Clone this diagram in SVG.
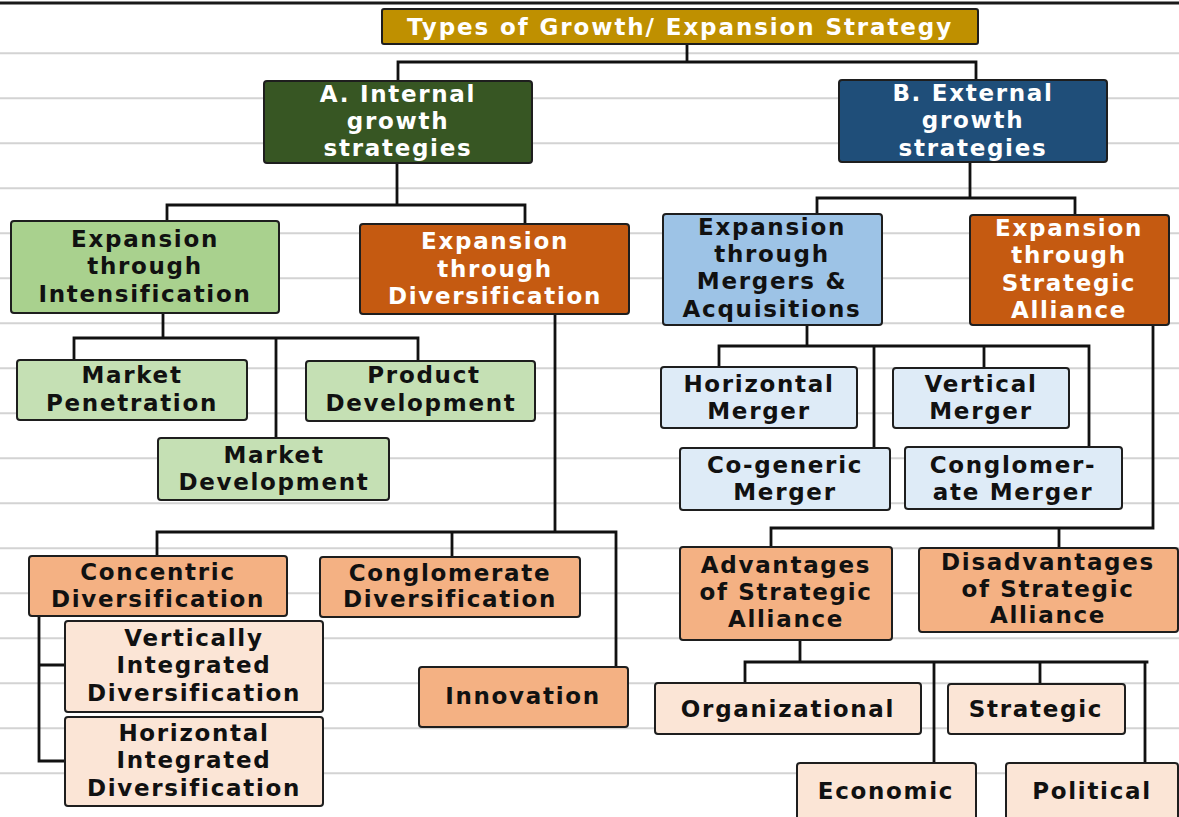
<svg xmlns="http://www.w3.org/2000/svg" width="1179" height="817" viewBox="0 0 1179 817">
<style>
.bg{fill:#ffffff}
.rule{stroke:#d3d3d3;stroke-width:2}
.box{stroke:#1e1e1e;stroke-width:2}
.t{font-family:"DejaVu Sans","Liberation Sans",sans-serif;font-weight:bold;font-size:23px;letter-spacing:1.7px;text-anchor:middle;fill:#111}
.w{fill:#ffffff}
.conn{fill:none;stroke:#111;stroke-width:2.8;stroke-linecap:square}
.gold{fill:#bf9000}.dg{fill:#375623}.db{fill:#1f4e79}.lg{fill:#a9d18e}.or{fill:#c55a11}.lb{fill:#9dc3e6}
.pg{fill:#c5e0b4}.lo{fill:#f4b183}.pp{fill:#fbe5d6}.pb{fill:#deebf7}
</style>
<rect class="bg" x="0" y="0" width="1179" height="817"/>
<g id="ruled-lines">
<line class="rule" x1="0" y1="53.3" x2="1179" y2="53.3"/>
<line class="rule" x1="0" y1="98.3" x2="1179" y2="98.3"/>
<line class="rule" x1="0" y1="143.3" x2="1179" y2="143.3"/>
<line class="rule" x1="0" y1="188.3" x2="1179" y2="188.3"/>
<line class="rule" x1="0" y1="233.3" x2="1179" y2="233.3"/>
<line class="rule" x1="0" y1="278.3" x2="1179" y2="278.3"/>
<line class="rule" x1="0" y1="323.3" x2="1179" y2="323.3"/>
<line class="rule" x1="0" y1="368.3" x2="1179" y2="368.3"/>
<line class="rule" x1="0" y1="413.3" x2="1179" y2="413.3"/>
<line class="rule" x1="0" y1="458.3" x2="1179" y2="458.3"/>
<line class="rule" x1="0" y1="503.3" x2="1179" y2="503.3"/>
<line class="rule" x1="0" y1="548.3" x2="1179" y2="548.3"/>
<line class="rule" x1="0" y1="593.3" x2="1179" y2="593.3"/>
<line class="rule" x1="0" y1="638.3" x2="1179" y2="638.3"/>
<line class="rule" x1="0" y1="683.3" x2="1179" y2="683.3"/>
<line class="rule" x1="0" y1="728.3" x2="1179" y2="728.3"/>
<line class="rule" x1="0" y1="773.3" x2="1179" y2="773.3"/>
<line x1="0" y1="3" x2="1179" y2="3" stroke="#1a1a1a" stroke-width="3"/>
</g>
<g id="connectors">
<path class="conn" d="M687,44 V62 M398,62 H976 M398,62 V80 M976,62 V80"/>
<path class="conn" d="M397,163 V205 M167,205 H525 M167,205 V221 M525,205 V224"/>
<path class="conn" d="M970,162 V198 M817,198 H1075 M817,198 V214 M1075,198 V215"/>
<path class="conn" d="M163,313 V338 M74,338 H418 M74,338 V360 M276,338 V438 M418,338 V362"/>
<path class="conn" d="M555,314 V532 M157,532 H616 M157,532 V556 M452,532 V557 M616,532 V667"/>
<path class="conn" d="M39,616 V761 M39,665 H65 M39,761 H65"/>
<path class="conn" d="M807,325 V346 M719,346 H1089 M719,346 V367 M874,346 V448 M984,346 V368 M1089,346 V447"/>
<path class="conn" d="M1153,325 V528 M771,528 H1153 M771,528 V547 M1059,528 V548"/>
<path class="conn" d="M800,640 V662 M745,662 H1147 M745,662 V683 M934,662 V763 M1040,662 V684 M1145,662 V763"/>
</g>
<g id="n-title"><rect class="box gold" x="382" y="9" width="596" height="35" rx="2"/>
<text class="t w" x="680" y="35" style="letter-spacing:1.9px">Types of Growth/ Expansion Strategy</text></g>
<g id="n-internal"><rect class="box dg" x="264" y="81" width="268" height="82" rx="3"/>
<text class="t w" x="398" y="102">A. Internal</text><text class="t w" x="398" y="129">growth</text><text class="t w" x="398" y="156">strategies</text></g>
<g id="n-external"><rect class="box db" x="839" y="80" width="268" height="82" rx="3"/>
<text class="t w" x="973" y="101">B. External</text><text class="t w" x="973" y="128">growth</text><text class="t w" x="973" y="156">strategies</text></g>
<g id="n-intensification"><rect class="box lg" x="11" y="221" width="268" height="92" rx="3"/>
<text class="t" x="145" y="247">Expansion</text><text class="t" x="145" y="274">through</text><text class="t" x="145" y="302">Intensification</text></g>
<g id="n-diversification"><rect class="box or" x="360" y="224" width="269" height="90" rx="3"/>
<text class="t w" x="495" y="249">Expansion</text><text class="t w" x="495" y="277">through</text><text class="t w" x="495" y="304">Diversification</text></g>
<g id="n-mergers"><rect class="box lb" x="663" y="214" width="219" height="111" rx="3"/>
<text class="t" x="772" y="235">Expansion</text><text class="t" x="772" y="262">through</text><text class="t" x="772" y="289">Mergers &amp;</text><text class="t" x="772" y="317">Acquisitions</text></g>
<g id="n-alliance"><rect class="box or" x="970" y="215" width="199" height="110" rx="3"/>
<text class="t w" x="1069" y="236">Expansion</text><text class="t w" x="1069" y="263">through</text><text class="t w" x="1069" y="291">Strategic</text><text class="t w" x="1069" y="318">Alliance</text></g>
<g id="n-market-penetration"><rect class="box pg" x="17" y="360" width="230" height="60" rx="3"/>
<text class="t" x="132" y="383">Market</text><text class="t" x="132" y="411">Penetration</text></g>
<g id="n-product-development"><rect class="box pg" x="306" y="361" width="229" height="60" rx="3"/>
<text class="t" x="424" y="383">Product</text><text class="t" x="421" y="411">Development</text></g>
<g id="n-market-development"><rect class="box pg" x="158" y="438" width="231" height="62" rx="3"/>
<text class="t" x="274" y="463">Market</text><text class="t" x="274" y="490">Development</text></g>
<g id="n-concentric"><rect class="box lo" x="29" y="556" width="258" height="60" rx="3"/>
<text class="t" x="158" y="580">Concentric</text><text class="t" x="158" y="607">Diversification</text></g>
<g id="n-conglomerate-div"><rect class="box lo" x="320" y="557" width="260" height="60" rx="3"/>
<text class="t" x="450" y="581">Conglomerate</text><text class="t" x="450" y="607">Diversification</text></g>
<g id="n-innovation"><rect class="box lo" x="419" y="667" width="209" height="60" rx="3"/>
<text class="t" x="523" y="704">Innovation</text></g>
<g id="n-vertically"><rect class="box pp" x="65" y="621" width="258" height="91" rx="3"/>
<text class="t" x="194" y="646">Vertically</text><text class="t" x="194" y="673">Integrated</text><text class="t" x="194" y="701">Diversification</text></g>
<g id="n-horizontally"><rect class="box pp" x="65" y="717" width="258" height="89" rx="3"/>
<text class="t" x="194" y="741">Horizontal</text><text class="t" x="194" y="768">Integrated</text><text class="t" x="194" y="796">Diversification</text></g>
<g id="n-horizontal-merger"><rect class="box pb" x="661" y="367" width="196" height="61" rx="3"/>
<text class="t" x="759" y="392">Horizontal</text><text class="t" x="759" y="419">Merger</text></g>
<g id="n-vertical-merger"><rect class="box pb" x="893" y="368" width="176" height="60" rx="3"/>
<text class="t" x="981" y="392">Vertical</text><text class="t" x="981" y="419">Merger</text></g>
<g id="n-cogeneric"><rect class="box pb" x="680" y="448" width="210" height="62" rx="3"/>
<text class="t" x="785" y="473">Co-generic</text><text class="t" x="785" y="500">Merger</text></g>
<g id="n-conglomerate-merger"><rect class="box pb" x="905" y="447" width="217" height="62" rx="3"/>
<text class="t" x="1013" y="473">Conglomer-</text><text class="t" x="1013" y="500">ate Merger</text></g>
<g id="n-advantages"><rect class="box lo" x="680" y="547" width="212" height="93" rx="3"/>
<text class="t" x="786" y="573">Advantages</text><text class="t" x="786" y="600">of Strategic</text><text class="t" x="786" y="627">Alliance</text></g>
<g id="n-disadvantages"><rect class="box lo" x="919" y="548" width="259" height="84" rx="3"/>
<text class="t" x="1048" y="570">Disadvantages</text><text class="t" x="1048" y="597">of Strategic</text><text class="t" x="1048" y="623">Alliance</text></g>
<g id="n-organizational"><rect class="box pp" x="655" y="683" width="266" height="51" rx="3"/>
<text class="t" x="788" y="717">Organizational</text></g>
<g id="n-strategic"><rect class="box pp" x="948" y="684" width="177" height="50" rx="3"/>
<text class="t" x="1036" y="717">Strategic</text></g>
<g id="n-economic"><rect class="box pp" x="797" y="763" width="179" height="70" rx="3"/>
<text class="t" x="886" y="799">Economic</text></g>
<g id="n-political"><rect class="box pp" x="1006" y="763" width="172" height="70" rx="3"/>
<text class="t" x="1092" y="799">Political</text></g>
</svg>
